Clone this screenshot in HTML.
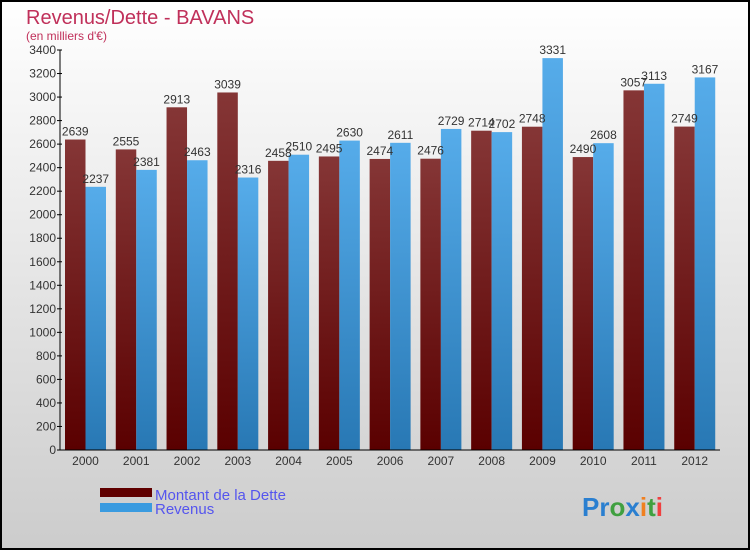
<!DOCTYPE html>
<html><head><meta charset="utf-8"><style>
body{margin:0;}
#c{width:750px;height:550px;position:relative;font-family:"Liberation Sans",sans-serif;}
</style></head><body>
<div id="c">
<svg id="s" width="750" height="550" xmlns="http://www.w3.org/2000/svg">
<defs>
<linearGradient id="bg" x1="0" y1="0" x2="0" y2="1"><stop offset="0" stop-color="#ffffff"/><stop offset="1" stop-color="#cccccc"/></linearGradient>
<linearGradient id="gd" x1="0" y1="0" x2="0" y2="1"><stop offset="0" stop-color="#853636"/><stop offset="1" stop-color="#5a0000"/></linearGradient>
<linearGradient id="gr" x1="0" y1="0" x2="0" y2="1"><stop offset="0" stop-color="#56acea"/><stop offset="1" stop-color="#2878b4"/></linearGradient>
</defs>
<rect x="1" y="1" width="748" height="548" fill="url(#bg)" stroke="#000" stroke-width="2"/>
<text x="26" y="24" font-size="20" fill="#c0305a">Revenus/Dette - BAVANS</text>
<text x="26" y="40" font-size="12" fill="#c0305a">(en milliers d'€)</text>
<g id="plot"></g>
<rect x="100" y="488" width="52" height="9" fill="#600000"/>
<rect x="100" y="503" width="52" height="9" fill="#3a9be0"/>
<text x="155" y="500" font-size="15" fill="#5555ee">Montant de la Dette</text>
<text x="155" y="514" font-size="15" fill="#5555ee">Revenus</text>
<text x="582" y="516" font-size="26" font-weight="bold"><tspan fill="#2a7fd0">Pr</tspan><tspan fill="#40a040">o</tspan><tspan fill="#2a7fd0">x</tspan><tspan fill="#f08020">i</tspan><tspan fill="#40a040">t</tspan><tspan fill="#f04040">i</tspan></text>
</svg></div>
<script>
const years=["2000","2001","2002","2003","2004","2005","2006","2007","2008","2009","2010","2011","2012"];
const dette=[2639,2555,2913,3039,2458,2495,2474,2476,2714,2748,2490,3057,2749];
const revenus=[2237,2381,2463,2316,2510,2630,2611,2729,2702,3331,2608,3113,3167];
const yTicks=[0,200,400,600,800,1000,1200,1400,1600,1800,2000,2200,2400,2600,2800,3000,3200,3400];
const NS="http://www.w3.org/2000/svg";
const g=document.getElementById('plot');
const x0=60,x1=720,yB=450,yT=50,yMax=3400;
const gw=(x1-x0)/years.length,bw=20.5;
const y=v=>yB-(v/yMax)*(yB-yT);
function mk(t,a,txt){const e=document.createElementNS(NS,t);for(const k in a)e.setAttribute(k,a[k]);if(txt!=null)e.textContent=txt;g.appendChild(e);return e;}
years.forEach((yr,i)=>{
  const gx=x0+gw*i+5;
  let r=mk('rect',{x:gx,y:y(dette[i]),width:bw,height:yB-y(dette[i]),fill:'url(#gd)'});
  
  
  r=mk('rect',{x:gx+bw,y:y(revenus[i]),width:bw,height:yB-y(revenus[i]),fill:'url(#gr)'});
  
  
  let t=mk('text',{x:gx+bw/2,y:y(dette[i])-4,'font-size':12,'text-anchor':'middle',fill:'#333'},dette[i]);
  
  
  t=mk('text',{x:gx+bw*1.5,y:y(revenus[i])-4,'font-size':12,'text-anchor':'middle',fill:'#333'},revenus[i]);
  
  
  t=mk('text',{x:gx+bw,y:yB+15,'font-size':12,'text-anchor':'middle',fill:'#333'},yr);
  
  
});
yTicks.forEach(v=>{
  let l=mk('line',{x1:x0-3,x2:x0+2,y1:y(v),y2:y(v),stroke:'#000'});
  
  
  let t=mk('text',{x:x0-4,y:y(v)+4,'font-size':12,'text-anchor':'end',fill:'#333'},v);
  
  
});
let a=mk('line',{x1:x0,x2:x0,y1:yT,y2:yB,stroke:'#000'});


a=mk('line',{x1:x0,x2:x1,y1:yB,y2:yB,stroke:'#000'});


</script>
</body></html>
